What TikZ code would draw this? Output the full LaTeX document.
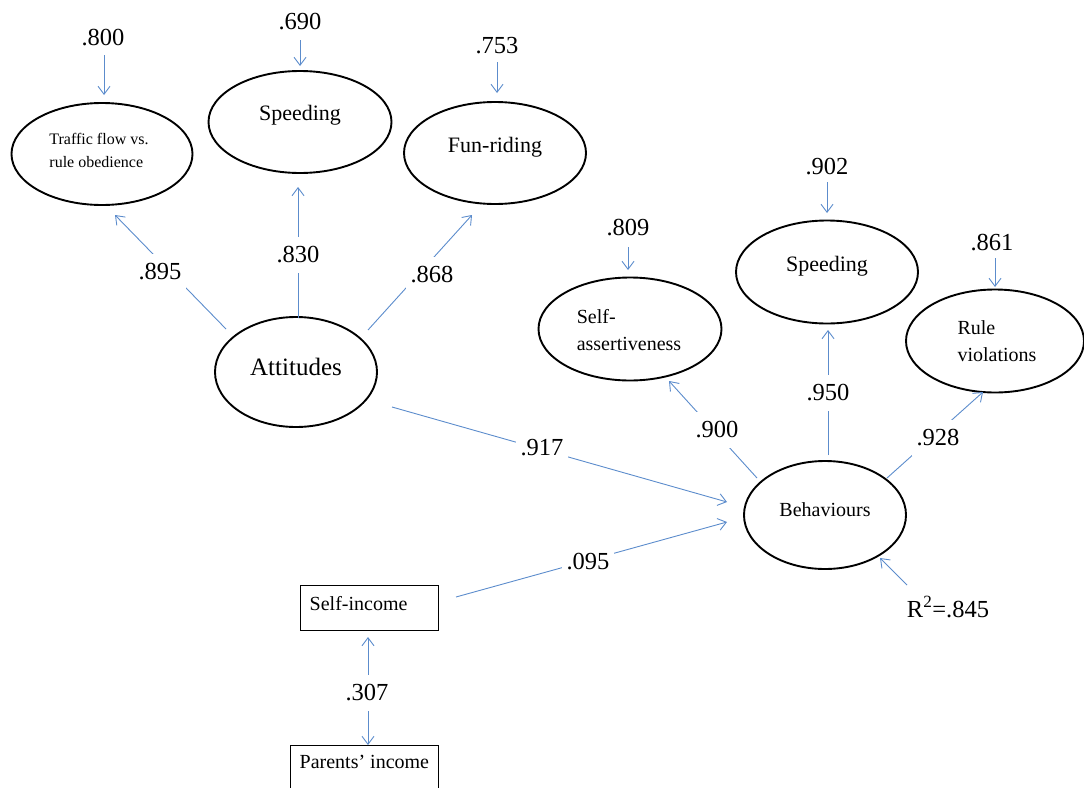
\documentclass[tikz,border=0pt]{standalone}
\usepackage{fontspec}
\setmainfont{Liberation Serif}
\usetikzlibrary{shapes.geometric,arrows.meta,calc}
\definecolor{lnblue}{RGB}{92,140,204}
\begin{document}
\begin{tikzpicture}[x=1pt,y=-1pt,
  lat/.style={ellipse,draw,line width=1.9pt,inner sep=0pt,minimum width=182pt,minimum height=102pt},
  obs/.style={rectangle,draw,line width=1pt,inner sep=0pt},
  num/.style={font=\fontsize{24.5}{28}\selectfont,inner sep=0pt},
  coef/.style={num,fill=white,inner xsep=5pt,inner ysep=10pt},
  tsm/.style={font=\fontsize{16}{23}\selectfont,align=left,inner sep=0pt},
  tmd/.style={font=\fontsize{20}{27}\selectfont,align=left,inner sep=0pt},
  tlg/.style={font=\fontsize{22}{26}\selectfont,inner sep=0pt},
  txl/.style={font=\fontsize{25}{30}\selectfont,inner sep=0pt},
  conn/.style={draw=lnblue,line width=0.9pt,-{Straight Barb[length=8pt,width=12pt]}},
  conn2/.style={draw=lnblue,line width=0.9pt,{Straight Barb[length=8pt,width=12pt]}-{Straight Barb[length=8pt,width=12pt]}}
]
\useasboundingbox (0,0) rectangle (1084,787);

% latent variables
\node[lat,minimum width=181pt,label={[tsm,xshift=-3pt,yshift=4pt]center:Traffic flow vs.\\rule obedience}] (tr) at (102,154) {};
\node[lat,minimum width=183pt,label={[tlg,yshift=7pt]center:Speeding}] (sp1) at (300,122) {};
\node[lat,label={[tlg,yshift=6pt]center:Fun-riding}] (fr) at (495,153) {};
\node[lat,minimum width=162pt,minimum height=110pt,label={[txl,yshift=5pt]center:Attitudes}] (att) at (296,372) {};
\node[lat,minimum width=183pt,minimum height=103pt,label={[tmd,xshift=-1pt,yshift=-1pt]center:Self-\\assertiveness}] (sa) at (630,329) {};
\node[lat,minimum height=103pt,label={[tlg,yshift=6pt]center:Speeding}] (sp2) at (827,272) {};
\node[lat,minimum width=178pt,minimum height=103pt,label={[tmd,xshift=2pt]center:Rule\\violations}] (rv) at (995,341) {};
\node[lat,minimum width=162pt,minimum height=108pt,label={[tmd,yshift=5pt]center:Behaviours}] (beh) at (825,515) {};

% observed variables
\node[obs,minimum width=138pt,minimum height=45pt,label={[tmd,anchor=west,xshift=10pt,yshift=4pt]west:Self-income}] (si) at (369,607.5) {};
\node[obs,minimum width=148pt,minimum height=60pt,label={[tmd,anchor=west,xshift=10pt,yshift=13pt]west:Parents’ income}] (pi) at (364,775) {};

% error terms
\node[num] (l800) at (103,38) {.800};
\node[num] (l690) at (300,22) {.690};
\node[num] (l753) at (497,46) {.753};
\node[num] (l809) at (628,228) {.809};
\node[num] (l902) at (827,167) {.902};
\node[num] (l861) at (992,243) {.861};
\node[num] (lr2) at (948,607) {R\textsuperscript{2}=.845};

\draw[conn] ($(l800)+(1,17)$) -- ($(tr)+(2,-59)$);
\draw[conn] ($(l690)+(0,18)$) -- ($(sp1)+(0,-56)$);
\draw[conn] ($(l753)+(0,16)$) -- ($(fr)+(2,-60)$);
\draw[conn] ($(l809)+(0,19)$) -- ($(sa)+(-2,-59)$);
\draw[conn] ($(l902)+(0,15)$) -- ($(sp2)+(0,-59)$);
\draw[conn] ($(l861)+(3,15)$) -- ($(rv)+(0,-54)$);
\draw[conn] ($(lr2)+(-41,-22)$) -- ($(beh)+(55,43)$);

% structural paths
\draw[conn] ($(att)+(-70,-43)$) -- ($(tr)+(13,61)$);
\draw[conn] ($(att)+(2,-54)$) -- ($(sp1)+(-2,65)$);
\draw[conn] ($(att)+(72,-42)$) -- ($(fr)+(-23,62)$);
\draw[conn] ($(att)+(96,35)$) -- ($(beh)+(-98,-13)$);
\draw[conn] ($(si)+(87,-10.5)$) -- ($(beh)+(-98,7)$);
\draw[conn] ($(beh)+(-68,-37)$) -- ($(sa)+(39,52)$);
\draw[conn] ($(beh)+(3,-60)$) -- ($(sp2)+(1,58)$);
\draw[conn] ($(beh)+(62,-37)$) -- ($(rv)+(-12,51)$);
\draw[conn2] ($(si)+(-1,29.5)$) -- ($(pi)+(4,-30)$);

% coefficients
\node[coef] (c895) at (160,272) {.895};
\node[coef] (c830) at (298,255) {.830};
\node[coef] (c868) at (432,275) {.868};
\node[coef] (c917) at (542,448) {.917};
\node[coef] (c095) at (588,562) {.095};
\node[coef] (c900) at (717,430) {.900};
\node[coef] (c950) at (828,393) {.950};
\node[coef] (c928) at (938,438) {.928};
\node[coef] (c307) at (367,693) {.307};
\end{tikzpicture}
\end{document}
